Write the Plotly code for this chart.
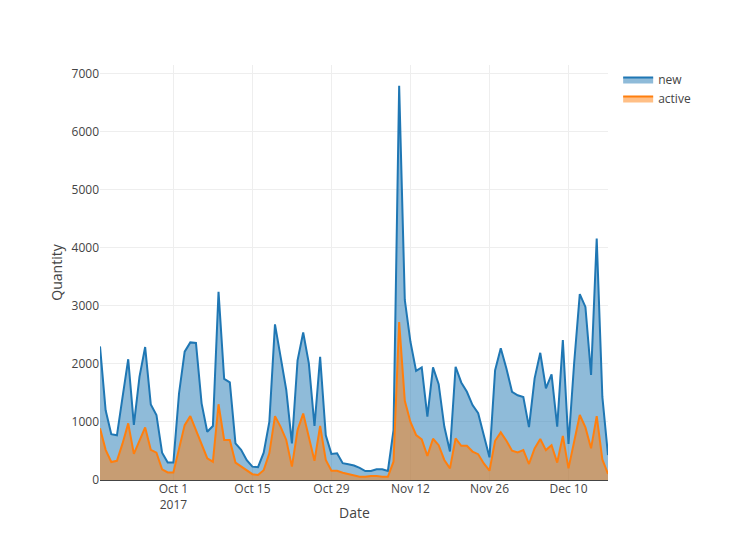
import pandas as pd
import plotly.graph_objects as go

dates = pd.date_range("2017-09-18", "2017-12-17", freq="D")

new_vals = [
    2300, 1200, 790, 770, 1430, 2080, 950, 1780, 2290, 1300, 1120, 470, 300,  # Sep 18-30
    300, 1490, 2210, 2370, 2360, 1320, 830, 930, 3240, 1740, 1680, 630, 520, 340,  # Oct 1-14
    230, 220, 470, 1000, 2680, 2120, 1550, 630, 2060, 2540, 2010, 930, 2120, 770,  # Oct 15-28
    450, 460, 290,  # Oct 29-31
    270, 250, 210, 155, 155, 185, 185, 155, 860, 6790, 3100,  # Nov 1-11
    2380, 1880, 1940, 1090, 1940, 1650, 920, 490, 1950, 1680, 1520, 1290, 1150, 770,  # Nov 12-25
    390, 1890, 2270, 1920, 1520,  # Nov 26-30
    1460, 1430, 910, 1750, 2190, 1580, 1820, 920, 2410,  # Dec 1-9
    620, 2010, 3200, 2980, 1810, 4160, 1430, 430,  # Dec 10-17
]

active_vals = [
    890, 520, 310, 330, 630, 975, 450, 690, 905, 520, 470, 185, 130,
    130, 545, 945, 1100, 860, 640, 375, 315, 1305, 690, 690, 300, 230, 160,
    100, 85, 170, 460, 1100, 915, 690, 230, 860, 1145, 745, 330, 930, 345,
    160, 160, 125,
    100, 85, 55, 55, 70, 70, 55, 55, 315, 2720, 1365,
    1000, 775, 700, 415, 710, 600, 345, 200, 715, 590, 590, 490, 445, 285,
    160, 675, 820, 675, 505,
    475, 515, 275, 545, 705, 515, 600, 300, 760,
    200, 690, 1120, 905, 545, 1100, 355, 105,
]

fig = go.Figure()
fig.add_trace(go.Scatter(x=dates, y=new_vals, name="new", mode="lines",
                         fill="tozeroy", line=dict(color="#1f77b4", width=2)))
fig.add_trace(go.Scatter(x=dates, y=active_vals, name="active", mode="lines",
                         fill="tozeroy", line=dict(color="#ff7f0e", width=2)))

fig.update_layout(
    template="none",
    width=752, height=560,
    margin=dict(l=100, r=144, t=65, b=80),
    paper_bgcolor="white", plot_bgcolor="white",
    font=dict(family="Open Sans, verdana, arial, sans-serif", size=12, color="#444"),
    showlegend=True,
    legend=dict(x=1.02, y=1, xanchor="left", yanchor="top", font=dict(size=12)),
    xaxis=dict(showgrid=True, gridcolor="#eee",
               tick0="2017-10-01", dtick=14 * 86400000, ticks="",
               showline=False, zeroline=False),
    yaxis=dict(title=dict(text="Quantity"), showgrid=True, gridcolor="#eee",
               zeroline=True, zerolinecolor="#444", zerolinewidth=1,
               ticks="", showline=False, dtick=1000),
    annotations=[dict(text="Date", xref="paper", yref="paper", x=0.5, y=-0.078,
                      xanchor="center", yanchor="middle", showarrow=False,
                      font=dict(size=14, color="#444"))],
)

fig.write_html("out.html")
